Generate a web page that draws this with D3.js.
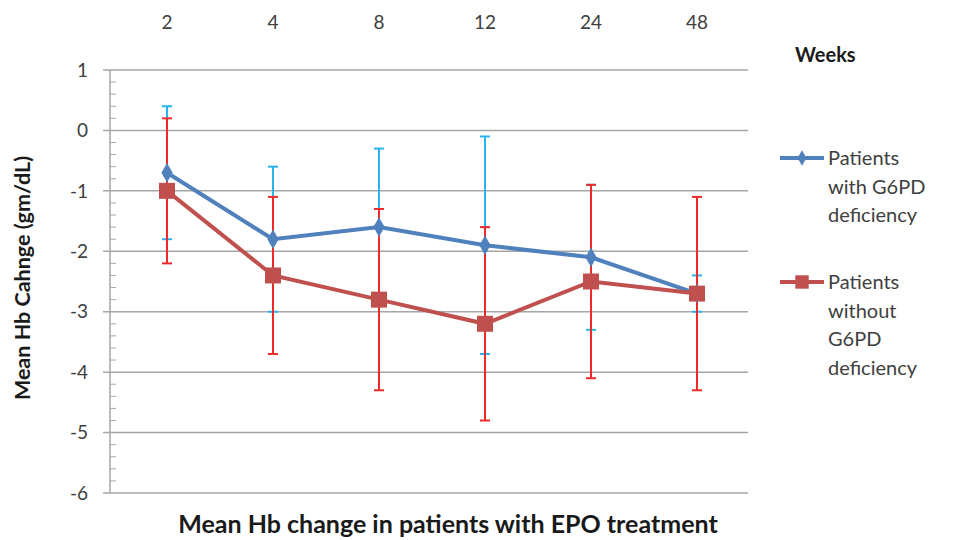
<!DOCTYPE html>
<html>
<head>
<meta charset="utf-8">
<script src="https://cdn.jsdelivr.net/npm/d3@7"></script>
<style>
  body { margin: 0; background: #fff; overflow: hidden; }
  svg { display: block; }
  text { font-family: Lato, "Open Sans", sans-serif; }
</style>
</head>
<body>
<div id="chart"></div>
<script>
// weeks along the top
var weeks = ["2", "4", "8", "12", "24", "48"];

// patients with G6PD deficiency
var withMean = [-0.7, -1.8, -1.6, -1.9, -2.1, -2.7];
var withErr  = [1.1, 1.2, 1.3, 1.8, 1.2, 0.3];

// patients without G6PD deficiency
var withoutMean = [-1.0, -2.4, -2.8, -3.2, -2.5, -2.7];
var withoutErr  = [1.2, 1.3, 1.5, 1.6, 1.6, 1.6];

var yTicks = [1, 0, -1, -2, -3, -4, -5, -6];

var width = 959, height = 540;
var margin = { left: 110, top: 70, right: 211, bottom: 47 };
var innerWidth = width - margin.left - margin.right;
var innerHeight = height - margin.top - margin.bottom;

var blue = "#4f81bd", red = "#c0504d";
var blueErr = "#29b6f0", redErr = "#ee2b2b";

var svg = d3.select("#chart").append("svg")
  .attr("width", width)
  .attr("height", height);

var g = svg.append("g")
  .attr("transform", "translate(" + margin.left + "," + margin.top + ")");

var x = d3.scaleBand().domain(weeks).range([4, innerWidth + 2]);
var y = d3.scaleLinear().domain([-6, 1]).range([innerHeight, 0]);
var cx = function(i) { return x(weeks[i]) + x.bandwidth() / 2; };

// gridlines with the little outward tick
g.append("g")
  .selectAll("line")
  .data(yTicks)
  .enter().append("line")
  .attr("x1", -7).attr("x2", innerWidth)
  .attr("y1", d => y(d)).attr("y2", d => y(d))
  .attr("stroke", "#a6a6a6").attr("stroke-width", 1.5);

// minor ticks inside the axis
var minor = d3.range(-6, 1.001, 0.2).filter(v => Math.abs(v - Math.round(v)) > 0.01);
g.append("g")
  .selectAll("line")
  .data(minor)
  .enter().append("line")
  .attr("x1", 0).attr("x2", 6)
  .attr("y1", d => y(d)).attr("y2", d => y(d))
  .attr("stroke", "#a6a6a6").attr("stroke-width", 1);

// y axis line
g.append("line")
  .attr("x1", 0).attr("x2", 0)
  .attr("y1", 0).attr("y2", innerHeight)
  .attr("stroke", "#a6a6a6").attr("stroke-width", 1.5);

// y tick labels
g.append("g")
  .selectAll("text")
  .data(yTicks)
  .enter().append("text")
  .attr("x", -22)
  .attr("y", d => y(d))
  .attr("dy", "0.35em")
  .attr("text-anchor", "end")
  .attr("font-size", 19)
  .attr("fill", "#404040")
  .text(d => d);

// week labels along the top
g.append("g")
  .selectAll("text")
  .data(weeks)
  .enter().append("text")
  .attr("x", d => x(d) + x.bandwidth() / 2)
  .attr("y", -41)
  .attr("text-anchor", "middle")
  .attr("font-size", 19)
  .attr("fill", "#404040")
  .text(d => d);

function errorBars(means, errs, color) {
  var eg = g.append("g").attr("stroke", color).attr("stroke-width", 2);
  means.forEach(function(m, i) {
    var lo = y(m - errs[i]), hi = y(m + errs[i]);
    eg.append("line").attr("x1", cx(i)).attr("x2", cx(i)).attr("y1", hi).attr("y2", lo);
    eg.append("line").attr("x1", cx(i) - 5).attr("x2", cx(i) + 5).attr("y1", hi).attr("y2", hi);
    eg.append("line").attr("x1", cx(i) - 5).attr("x2", cx(i) + 5).attr("y1", lo).attr("y2", lo);
  });
}
errorBars(withMean, withErr, blueErr);
errorBars(withoutMean, withoutErr, redErr);

var line = d3.line().x((d, i) => cx(i)).y(d => y(d));

function series(means, color, symbol, size) {
  g.append("path")
    .datum(means)
    .attr("d", line)
    .attr("fill", "none")
    .attr("stroke", color)
    .attr("stroke-width", 4);
  g.append("g")
    .selectAll("path")
    .data(means)
    .enter().append("path")
    .attr("transform", (d, i) => "translate(" + cx(i) + "," + y(d) + ")")
    .attr("d", d3.symbol().type(symbol).size(size))
    .attr("fill", color);
}
series(withMean, blue, d3.symbolDiamond, 110);
series(withoutMean, red, d3.symbolSquare, 256);

// legend
var legend = svg.append("g").attr("transform", "translate(780,0)");
var items = [
  { lines: ["Patients", "with G6PD", "deficiency"], color: blue, symbol: d3.symbolDiamond, size: 70, y: 158 },
  { lines: ["Patients", "without", "G6PD", "deficiency"], color: red, symbol: d3.symbolSquare, size: 180, y: 282 }
];
items.forEach(function(it) {
  var lg = legend.append("g").attr("transform", "translate(0," + it.y + ")");
  lg.append("line").attr("x1", 0).attr("x2", 44).attr("stroke", it.color).attr("stroke-width", 4);
  lg.append("path").attr("transform", "translate(22,0)")
    .attr("d", d3.symbol().type(it.symbol).size(it.size)).attr("fill", it.color);
  lg.selectAll("text").data(it.lines).enter().append("text")
    .attr("x", 48)
    .attr("y", (d, i) => i * 28.5)
    .attr("dy", "0.35em")
    .attr("font-size", 20)
    .attr("fill", "#404040")
    .text(d => d);
});

svg.append("text")
  .attr("x", 795).attr("y", 55)
  .attr("dy", "0.35em")
  .attr("font-size", 20).attr("font-weight", "bold")
  .attr("fill", "#1a1a1a")
  .text("Weeks");

// axis titles
svg.append("text")
  .attr("transform", "translate(22,278) rotate(-90)")
  .attr("text-anchor", "middle")
  .attr("dy", "0.35em")
  .attr("font-size", 21.5).attr("font-weight", "bold")
  .attr("fill", "#1a1a1a")
  .text("Mean Hb Cahnge (gm/dL)");

svg.append("text")
  .attr("x", 448).attr("y", 524)
  .attr("dy", "0.35em")
  .attr("text-anchor", "middle")
  .attr("font-size", 25).attr("font-weight", "bold")
  .attr("fill", "#1a1a1a")
  .text("Mean Hb change in patients with EPO treatment");
</script>
</body>
</html>
